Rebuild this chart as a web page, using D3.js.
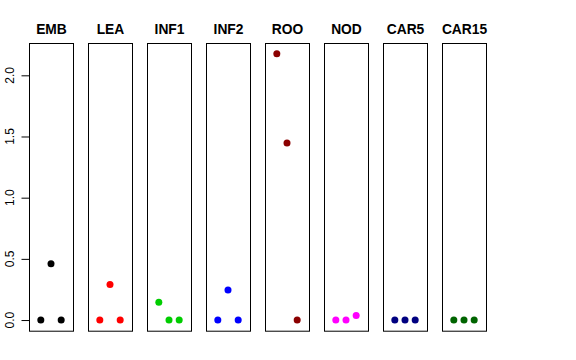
<!DOCTYPE html>
<html><head><meta charset="utf-8">
<script src="https://cdn.jsdelivr.net/npm/d3@7"></script>
<style>body{margin:0;background:#fff}svg{display:block}</style>
</head><body>
<svg id="c" width="576" height="360"></svg>
<script>
const categories = ["EMB","LEA","INF1","INF2","ROO","NOD","CAR5","CAR15"];
const colors = ["#000000","#FF0000","#00CD00","#0000FF","#8B0000","#FF00FF","#000080","#006400"];
const values = [
  [0, 0.46, 0],
  [0, 0.29, 0],
  [0.145, 0, 0],
  [0, 0.245, 0],
  [2.177, 1.446, 0],
  [0, 0, 0.038],
  [0, 0, 0],
  [0, 0, 0]
];
const yTicks = [0, 0.5, 1.0, 1.5, 2.0];

const svg = d3.select("#c");
const font = "'Liberation Sans', Arial, Helvetica, sans-serif";
const plotTop = 43, plotBottom = 330.7;
const yMax = d3.max(values.flat()), yMin = 0;
const ext = (yMax - yMin) * 0.04;
const y = d3.scaleLinear().domain([yMin - ext, yMax + ext]).range([plotBottom, plotTop]);

categories.forEach((cat, i) => {
  const x0 = 29 + i*59, w = 44;
  const x = d3.scaleLinear().domain([-0.16, 4.16]).range([x0, x0 + w]);
  const g = svg.append("g");
  g.append("rect").attr("x", x0 + 0.5).attr("y", plotTop + 0.5).attr("width", w).attr("height", plotBottom - plotTop)
    .attr("fill", "none").attr("stroke", "#000").attr("stroke-width", 1);
  g.selectAll("circle").data(values[i]).join("circle")
    .attr("cx", (d, j) => x(j + 1)).attr("cy", d => y(d)).attr("r", 3.5)
    .attr("fill", colors[i]);
  g.append("text").attr("x", x0 + w/2 + 0.5).attr("y", 34).attr("text-anchor", "middle")
    .attr("font-family", font).attr("font-weight", "bold").attr("font-size", 13.8).text(cat);
});

const ax = svg.append("g").attr("transform", "translate(29.5,0)")
  .call(d3.axisLeft(y).tickValues(yTicks).tickFormat(d3.format(".1f")).tickSize(8).tickSizeOuter(0));
ax.select(".domain").attr("d", `M0,${y(0)}V${y(2)}`);
ax.selectAll(".tick").attr("transform", null);
ax.selectAll(".tick line").attr("y1", d => y(d) + 0.5).attr("y2", d => y(d) + 0.5);
ax.selectAll(".tick text").attr("font-family", font).attr("font-size", 12).attr("fill", "#000")
  .attr("x", null).attr("dy", null).attr("y", 0)
  .attr("text-anchor", "middle")
  .attr("transform", d => `translate(-16,${y(d)}) rotate(-90)`);
</script>
</body></html>
